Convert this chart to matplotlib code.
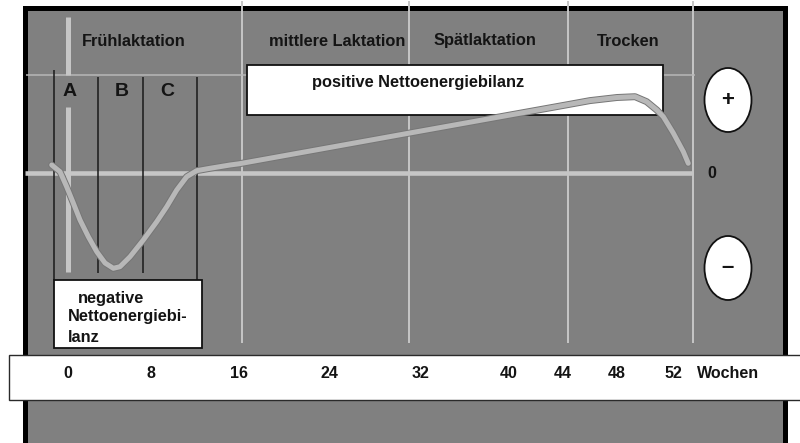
import numpy as np
import matplotlib
matplotlib.use("Agg")
import matplotlib.pyplot as plt
from matplotlib.patches import Rectangle, Ellipse
import matplotlib.patheffects as pe

# ---------------- data ----------------
tick_weeks = [0, 8, 16, 24, 32, 40, 44, 48, 52]
tick_labels = ["0", "8", "16", "24", "32", "40", "44", "48", "52"]
axis_unit = "Wochen"

phase_names = ["Frühlaktation", "mittlere Laktation", "Spätlaktation", "Trocken"]
phase_bounds = [16.3, 31.0, 44.4, 53.4]          # weeks
phase_label_weeks = [6.3, 24.7, 37.8, 48.8]

sub_names = ["A", "B", "C"]
sub_bounds = [-1.35, 2.9, 7.2, 12.2]             # weeks
sub_label_weeks = [0.2, 5.2, 9.5]

# energy balance curve (relative units, 0 = balanced)
curve_weeks = [-1.57, -0.77, -0.13, 0.51, 1.16, 1.96, 2.77, 3.57, 4.37, 5.01,
               5.98, 7.26, 8.52, 9.43, 10.34, 11.25, 12.15, 13.36, 15.18,
               16, 24, 32, 40, 44, 46, 48, 49.29, 50.12, 50.84, 51.31, 52.02,
               52.74, 53.09]
curve_balance = [0.8, 0.13, -1.37, -3.0, -4.7, -6.37, -7.87, -9.0, -9.53, -9.37,
                 -8.37, -6.7, -4.87, -3.37, -1.7, -0.37, 0.23, 0.47, 0.8,
                 0.92, 2.54, 4.2, 5.78, 6.75, 7.24, 7.55, 7.63, 7.13, 6.3, 5.63,
                 4.0, 2.13, 0.97]

pos_text = "positive Nettoenergiebilanz"
neg_lines = ["negative", "Nettoenergiebi-", "lanz"]

# ---------------- layout ----------------
W, H = 800, 443
tick_px = [68, 151, 239, 329, 421, 509, 563, 617, 673]   # schematic (non-uniform) spacing
Wa = np.array([-40.0] + tick_weeks + [100.0])
Pa = np.array([68 - 40 * 83 / 8] + tick_px + [673 + 48 * 14], float)


def fwd(x):
    return np.interp(x, Wa, Pa)


def inv(p):
    return np.interp(p, Pa, Wa)


def yb(py):  # pixel row -> balance units
    return (173 - py) / 10.0


fig = plt.figure(figsize=(W / 100, H / 100), dpi=100)
fig.patch.set_facecolor("white")
ax = fig.add_axes([0, 0, 1, 1])
ax.set_xscale("function", functions=(fwd, inv))
ax.set_xlim(inv(0), inv(W))
ax.set_ylim(yb(H), yb(0))
ax.axis("off")

FONT = ["Liberation Sans", "DejaVu Sans"]
TXT = "#141414"
LIGHT = "#c6c6c6"

# panel
ax.add_patch(Rectangle((inv(24.5), yb(480)), inv(784.5) - inv(24.5), yb(8) - yb(480),
                       facecolor="#808080", edgecolor="black", lw=3.6, zorder=0))

# phase separators
ax.vlines(phase_bounds, yb(343), yb(1), color=LIGHT, lw=1.4, zorder=1)
# thin horizontal line
ax.hlines(yb(75), inv(26), inv(695), color="#b8b8b8", lw=1.1, zorder=1)
# zero line
ax.hlines(0, inv(25), inv(693), color=LIGHT, lw=3.3, zorder=2)
# light vertical at week 0 (interrupted at label A)
ax.vlines([0, 0], [yb(75), yb(272)], [yb(17), yb(107)], color=LIGHT, lw=3.6, zorder=2)

# A/B/C separators
ax.vlines(sub_bounds, [yb(280), yb(273), yb(273), yb(280)],
          [yb(70), yb(77), yb(77), yb(77)], color="#1a1a1a", lw=1.1, zorder=3)

# phase labels
for name, wk in zip(phase_names, phase_label_weeks):
    ax.text(wk, yb(41), name, ha="center", va="center", fontsize=11.8,
            fontweight="bold", family=FONT, color=TXT, zorder=5)
for name, wk in zip(sub_names, sub_label_weeks):
    ax.text(wk, yb(92), name, ha="center", va="center", fontsize=14,
            fontweight="bold", family=FONT, color=TXT, zorder=5)

# positive box
ax.add_patch(Rectangle((inv(247), yb(115)), inv(663) - inv(247), yb(65) - yb(115),
                       facecolor="white", edgecolor="#111111", lw=1.3, zorder=3))
ax.text(inv(418), yb(83), pos_text, ha="center", va="center", fontsize=11.8,
        fontweight="bold", family=FONT, color=TXT, zorder=5)

# negative box
ax.add_patch(Rectangle((inv(54), yb(348)), inv(202) - inv(54), yb(280) - yb(348),
                       facecolor="white", edgecolor="#111111", lw=1.3, zorder=3))
for line, xp, yp in zip(neg_lines, [78, 68, 68], [298, 317, 337]):
    ax.text(inv(xp), yb(yp), line, ha="left", va="center", fontsize=11.8,
            fontweight="bold", family=FONT, color=TXT, zorder=5)

# curve
ax.plot(curve_weeks, curve_balance, color="#b8b8b8", lw=3.6, solid_capstyle="round",
        solid_joinstyle="round", zorder=4,
        path_effects=[pe.Stroke(linewidth=5.0, foreground="#767676"), pe.Normal()])

# +/- ellipses and 0
for py, sym in [(100, "+"), (268, "\u2013")]:
    ax.add_patch(Ellipse((inv(728), yb(py)), inv(751.5) - inv(704.5), 6.4,
                         facecolor="white", edgecolor="#111111", lw=1.3, zorder=3))
    ax.text(inv(728), yb(py), sym, ha="center", va="center", fontsize=16,
            fontweight="bold", family=FONT, color=TXT, zorder=5)
ax.text(inv(712), 0, "0", ha="center", va="center", fontsize=11.5,
        fontweight="bold", family=FONT, color=TXT, zorder=5)

# white week band
ax.add_patch(Rectangle((inv(9), yb(400)), inv(810) - inv(9), yb(355) - yb(400),
                       facecolor="white", edgecolor="#2a2a2a", lw=1.0, zorder=6))
for wk, lab in zip(tick_weeks, tick_labels):
    ax.text(wk, yb(373), lab, ha="center", va="center", fontsize=11.5,
            fontweight="bold", family=FONT, color=TXT, zorder=7)
ax.text(inv(728), yb(373), axis_unit, ha="center", va="center", fontsize=11.5,
        fontweight="bold", family=FONT, color=TXT, zorder=7)

fig.savefig("out.png", dpi=100, facecolor="white")
